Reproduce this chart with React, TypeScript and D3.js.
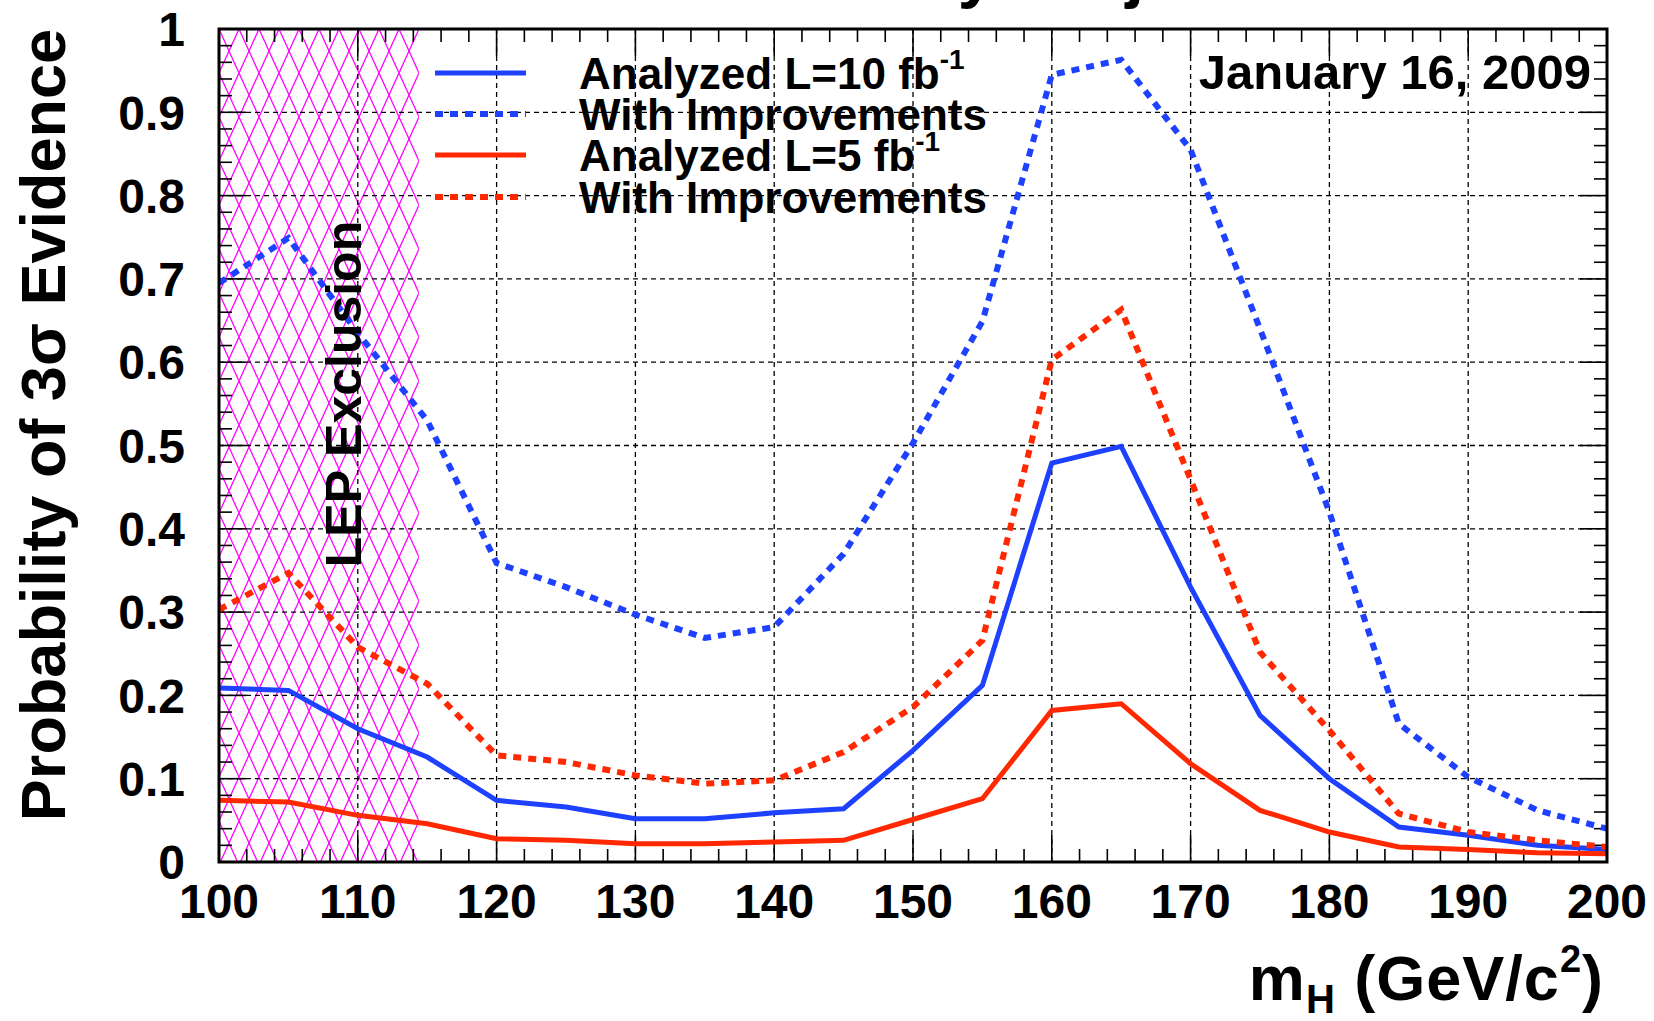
import React from 'react';
import * as d3 from 'd3';

// ---------- data ----------
const massPoints = [100, 105, 110, 115, 120, 125, 130, 135, 140, 145, 150, 155, 160, 165, 170, 175, 180, 185, 190, 195, 200];
const analyzed10 = [0.209, 0.206, 0.160, 0.126, 0.074, 0.066, 0.052, 0.052, 0.059, 0.064, 0.134, 0.212, 0.479, 0.499, 0.330, 0.176, 0.100, 0.042, 0.032, 0.020, 0.015];
const improved10 = [0.695, 0.749, 0.635, 0.530, 0.359, 0.330, 0.297, 0.269, 0.282, 0.370, 0.503, 0.649, 0.945, 0.963, 0.855, 0.640, 0.420, 0.166, 0.102, 0.062, 0.040];
const analyzed5 = [0.074, 0.072, 0.056, 0.046, 0.028, 0.026, 0.022, 0.022, 0.024, 0.026, 0.051, 0.076, 0.182, 0.190, 0.118, 0.062, 0.036, 0.018, 0.015, 0.011, 0.010];
const improved5 = [0.303, 0.347, 0.258, 0.214, 0.128, 0.120, 0.104, 0.094, 0.098, 0.132, 0.186, 0.266, 0.603, 0.663, 0.459, 0.252, 0.158, 0.058, 0.036, 0.026, 0.018];

const xTickValues = [100, 110, 120, 130, 140, 150, 160, 170, 180, 190, 200];
const yTickValues = [0, 0.1, 0.2, 0.3, 0.4, 0.5, 0.6, 0.7, 0.8, 0.9, 1];
const yTickLabels = ['0', '0.1', '0.2', '0.3', '0.4', '0.5', '0.6', '0.7', '0.8', '0.9', '1'];
const lepLimit = 114.4;

const seriesNames = ['Analyzed L=10 fb', 'With Improvements', 'Analyzed L=5 fb', 'With Improvements'];
const seriesSup = ['-1', '', '-1', ''];
const seriesColors = ['#1e40ff', '#1e40ff', '#ff2800', '#ff2800'];
const seriesDashed = [false, true, false, true];
const seriesValues = [analyzed10, improved10, analyzed5, improved5];

const dateLabel = 'January 16, 2009';
const titleText = 'Sensitivity Projection';

// ---------- layout ----------
const W = 1654;
const H = 1021;
const L = 219, R = 1607, T = 29, B = 862;
const FONT = '"Liberation Sans", Arial, Helvetica, sans-serif';

export default function App() {
  const x = d3.scaleLinear().domain([100, 200]).range([L, R]);
  const y = d3.scaleLinear().domain([0, 1]).range([B, T]);

  const line = d3.line<[number, number]>()
    .x(d => x(d[0]))
    .y(d => y(d[1]));

  const xMinor = d3.range(100, 200.001, 2);
  const yMinor = d3.range(0, 1.0001, 0.02);
  const majorLen = 27, minorLen = 13;

  const legendRows = [73, 114, 155, 197];
  const dash = '8 7';

  return (
    <svg width={W} height={H} viewBox={`0 0 ${W} ${H}`}
      style={{ position: 'absolute', left: 0, top: 0, background: '#fff' }}
      fontFamily={FONT} fontWeight="bold">
      <defs>
        <clipPath id="plotClip">
          <rect x={L} y={T} width={R - L} height={B - T} />
        </clipPath>
        <pattern id="hatch" patternUnits="userSpaceOnUse" width={20} height={44} x={L} y={T}>
          <line x1={0} y1={0} x2={20} y2={44} stroke="#ff00ff" strokeWidth={1.3} />
          <line x1={20} y1={0} x2={0} y2={44} stroke="#ff00ff" strokeWidth={1.3} />
        </pattern>
      </defs>
      <rect x={0} y={0} width={W} height={H} fill="#fff" />

      {/* title (cut off at top) */}
      <text x={660} y={-5} fontSize={67} fill="#000">{titleText}</text>

      {/* LEP hatch */}
      <rect x={x(100)} y={T} width={x(lepLimit) - x(100)} height={B - T} fill="url(#hatch)" />

      {/* grid */}
      <g stroke="#000" strokeWidth={1.3} strokeDasharray="5 4">
        {xTickValues.slice(1, -1).map(v => (
          <line key={'gx' + v} x1={x(v)} x2={x(v)} y1={T} y2={B} />
        ))}
        {yTickValues.slice(1, -1).map(v => (
          <line key={'gy' + v} x1={L} x2={R} y1={y(v)} y2={y(v)} />
        ))}
      </g>

      {/* ticks */}
      <g stroke="#000" strokeWidth={1.6}>
        {xMinor.map(v => {
          const isMajor = Math.abs((v - 100) % 10) < 1e-6;
          const len = isMajor ? majorLen : minorLen;
          return (
            <g key={'tx' + v}>
              <line x1={x(v)} x2={x(v)} y1={B} y2={B - len} />
              <line x1={x(v)} x2={x(v)} y1={T} y2={T + len} />
            </g>
          );
        })}
        {yMinor.map((v, i) => {
          const isMajor = i % 5 === 0;
          const len = isMajor ? majorLen : minorLen;
          return (
            <g key={'ty' + i}>
              <line x1={L} x2={L + len} y1={y(v)} y2={y(v)} />
              <line x1={R} x2={R - len} y1={y(v)} y2={y(v)} />
            </g>
          );
        })}
      </g>

      {/* curves */}
      <g clipPath="url(#plotClip)" fill="none">
        {seriesValues.map((vals, i) => (
          <path key={'s' + i}
            d={line(massPoints.map((m, j) => [m, vals[j]] as [number, number])) || ''}
            stroke={seriesColors[i]}
            strokeWidth={seriesDashed[i] ? 6 : 5}
            strokeDasharray={seriesDashed[i] ? dash : undefined}
            strokeLinejoin="miter" />
        ))}
      </g>

      {/* LEP label */}
      <text transform={`translate(361, 394) rotate(-90)`} textAnchor="middle"
        fontSize={50} fill="#000">LEP Exclusion</text>

      {/* frame */}
      <rect x={L} y={T} width={R - L} height={B - T} fill="none" stroke="#000" strokeWidth={3} />

      {/* x tick labels */}
      {xTickValues.map(v => (
        <text key={'xl' + v} x={x(v)} y={918} textAnchor="middle" fontSize={48} fill="#000">{v}</text>
      ))}
      {/* y tick labels */}
      {yTickValues.map((v, i) => (
        <text key={'yl' + i} x={185} y={y(v)} dy="0.36em" textAnchor="end" fontSize={48} fill="#000">{yTickLabels[i]}</text>
      ))}

      {/* axis titles */}
      <text transform={`translate(65, 425) rotate(-90)`} textAnchor="middle" fontSize={63} fill="#000">
        Probability of 3σ Evidence
      </text>
      <text x={1604} y={1000} textAnchor="end" fontSize={63} letterSpacing={1} fill="#000">
        m<tspan fontSize={40} dy={13}>H</tspan><tspan dy={-13}> (GeV/c</tspan><tspan fontSize={38} dy={-28}>2</tspan><tspan dy={28}>)</tspan>
      </text>

      {/* legend */}
      {seriesNames.map((name, i) => (
        <g key={'lg' + i}>
          <line x1={435} x2={526} y1={legendRows[i]} y2={legendRows[i]}
            stroke={seriesColors[i]} strokeWidth={seriesDashed[i] ? 6 : 5}
            strokeDasharray={seriesDashed[i] ? dash : undefined} />
          <text x={579} y={legendRows[i] + 15.5} fontSize={44} fill="#000">
            {name}
            {seriesSup[i] ? <tspan fontSize={28} dy={-20}>{seriesSup[i]}</tspan> : null}
          </text>
        </g>
      ))}

      {/* date */}
      <text x={1591} y={89} textAnchor="end" fontSize={49} fill="#000">{dateLabel}</text>
    </svg>
  );
}
